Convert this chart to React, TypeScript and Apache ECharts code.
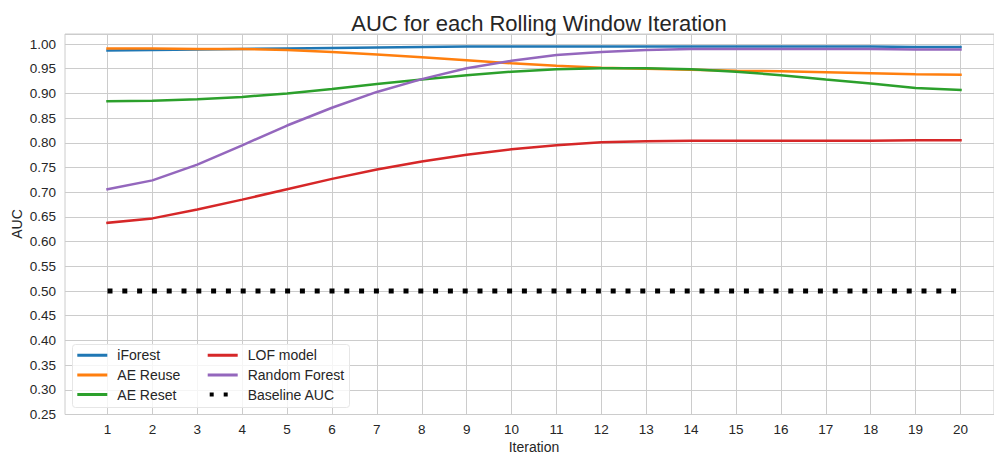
import React, { useEffect, useRef } from "react";
import * as echarts from "echarts";

const iterations = [1, 2, 3, 4, 5, 6, 7, 8, 9, 10, 11, 12, 13, 14, 15, 16, 17, 18, 19, 20];
const iForest = [0.987, 0.988, 0.989, 0.990, 0.991, 0.992, 0.993, 0.994, 0.995, 0.995, 0.995, 0.995, 0.995, 0.995, 0.995, 0.995, 0.995, 0.995, 0.994, 0.994];
const aeReuse = [0.991, 0.991, 0.990, 0.990, 0.988, 0.984, 0.979, 0.973, 0.967, 0.961, 0.956, 0.952, 0.950, 0.948, 0.946, 0.945, 0.943, 0.941, 0.939, 0.938];
const aeReset = [0.884, 0.885, 0.888, 0.893, 0.900, 0.909, 0.919, 0.928, 0.937, 0.944, 0.949, 0.951, 0.951, 0.949, 0.944, 0.937, 0.928, 0.920, 0.911, 0.907];
const lofModel = [0.638, 0.647, 0.665, 0.685, 0.706, 0.727, 0.746, 0.762, 0.776, 0.787, 0.795, 0.801, 0.803, 0.804, 0.804, 0.804, 0.804, 0.804, 0.805, 0.805];
const randomForest = [0.706, 0.724, 0.756, 0.795, 0.835, 0.871, 0.903, 0.929, 0.951, 0.966, 0.978, 0.984, 0.988, 0.990, 0.990, 0.990, 0.990, 0.990, 0.989, 0.989];
const baseline = [0.5, 0.5, 0.5, 0.5, 0.5, 0.5, 0.5, 0.5, 0.5, 0.5, 0.5, 0.5, 0.5, 0.5, 0.5, 0.5, 0.5, 0.5, 0.5, 0.5];

const seriesNames = ["iForest", "AE Reuse", "AE Reset", "LOF model", "Random Forest", "Baseline AUC"];
const seriesColors = ["#1f77b4", "#ff7f0e", "#2ca02c", "#d62728", "#9467bd", "#000000"];
const seriesValues = [iForest, aeReuse, aeReset, lofModel, randomForest, baseline];

const FONT = "'Liberation Sans', Arial, sans-serif";
const TEXT = "#262626";
const GRIDC = "#cccccc";

const solidIcon = "path://M0,0h0.01v4h-0.01zM0,0.5h30v3h-30zM34.99,0h0.01v4h-0.01z";
const dotIcon = "path://M0,0h0.01v4h-0.01zM2,0h4v4h-4zM16,0h4v4h-4zM34.99,0h0.01v4h-0.01z";

export default function App() {
  const ref = useRef<HTMLDivElement>(null);
  useEffect(() => {
    if (!ref.current) return;
    const chart = echarts.init(ref.current, undefined, { renderer: "svg" });
    const yMin = 0.25;
    const yMax = 1.0203;
    const top = 34;
    const bottom = 456 - 414.5;
    const legendItem = (name: string) => ({
      name,
      icon: name === "Baseline AUC" ? dotIcon : solidIcon,
    });
    const legendCommon = {
      orient: "vertical" as const,
      itemWidth: 35,
      itemHeight: 4,
      itemGap: 5.6,
      top: 343.3,
      padding: 5,
      itemStyle: { borderWidth: 0 },
      textStyle: { fontFamily: FONT, fontSize: 14, color: TEXT, lineHeight: 14 },
      selectedMode: false as const,
      z: 5,
    };
    chart.setOption({
      animation: false,
      backgroundColor: "#ffffff",
      title: {
        text: "AUC for each Rolling Window Iteration",
        left: 534,
        top: 7.4,
        textAlign: "center",
        textStyle: { fontFamily: FONT, fontSize: 22, fontWeight: "normal", color: TEXT },
      },
      grid: [
        { left: 65, top, bottom, width: 938, show: true, borderColor: GRIDC, borderWidth: 1, backgroundColor: "transparent" },
        { left: 107.5, top, bottom, width: 853 },
      ],
      xAxis: [
        { gridIndex: 0, type: "value", min: 0, max: 1, show: false },
        {
          gridIndex: 1,
          type: "value",
          min: 1,
          max: 20,
          interval: 1,
          axisLine: { show: false },
          axisTick: { show: false },
          axisLabel: { fontFamily: FONT, fontSize: 13.5, color: TEXT, margin: 8 },
          splitLine: { show: true, lineStyle: { color: GRIDC, width: 1 } },
        },
      ],
      yAxis: [
        {
          gridIndex: 0,
          type: "value",
          min: yMin,
          max: yMax,
          interval: 0.05,
          axisLine: { show: false },
          axisTick: { show: false },
          axisLabel: {
            fontFamily: FONT,
            fontSize: 13.5,
            color: TEXT,
            margin: 9,
            showMaxLabel: false,
            formatter: (v: number) => v.toFixed(2),
          },
          splitLine: { show: true, lineStyle: { color: GRIDC, width: 1 } },
        },
        { gridIndex: 1, type: "value", min: yMin, max: yMax, show: false, splitLine: { show: false } },
      ],
      legend: [
        { ...legendCommon, left: 72.3, data: seriesNames.slice(0, 3).map(legendItem) },
        { ...legendCommon, left: 202.7, data: seriesNames.slice(3).map(legendItem) },
      ],
      graphic: [
        {
          type: "rect",
          z: 4,
          shape: { x: 72.5, y: 344.5, width: 277, height: 63, r: 3 },
          style: { fill: "rgba(255,255,255,0.8)", stroke: "#e6e6e6", lineWidth: 1 },
        },
        {
          type: "text",
          x: 17,
          y: 224,
          rotation: Math.PI / 2,
          style: { text: "AUC", fontFamily: FONT, fontSize: 14, fill: TEXT, textAlign: "center", textVerticalAlign: "middle" },
        },
        {
          type: "text",
          x: 534,
          y: 447,
          style: { text: "Iteration", fontFamily: FONT, fontSize: 14, fill: TEXT, textAlign: "center", textVerticalAlign: "middle" },
        },
      ],
      series: seriesNames.map((name, i) => {
        const isBase = name === "Baseline AUC";
        return {
          name,
          type: "line",
          xAxisIndex: 1,
          yAxisIndex: 1,
          data: iterations.map((x, j) => [x, seriesValues[i][j]]),
          symbol: "none",
          clip: false,
          color: seriesColors[i],
          lineStyle: isBase
            ? { color: seriesColors[i], width: 5, type: [5, 9.8], cap: "butt" }
            : { color: seriesColors[i], width: 2.5, cap: "square" },
          emphasis: { disabled: true },
          z: 2 + i * 0.01,
        };
      }),
    });
    return () => chart.dispose();
  }, []);
  return (
    <div
      ref={ref}
      style={{ position: "fixed", left: 0, top: 0, width: 994, height: 456, overflow: "hidden" }}
    />
  );
}
